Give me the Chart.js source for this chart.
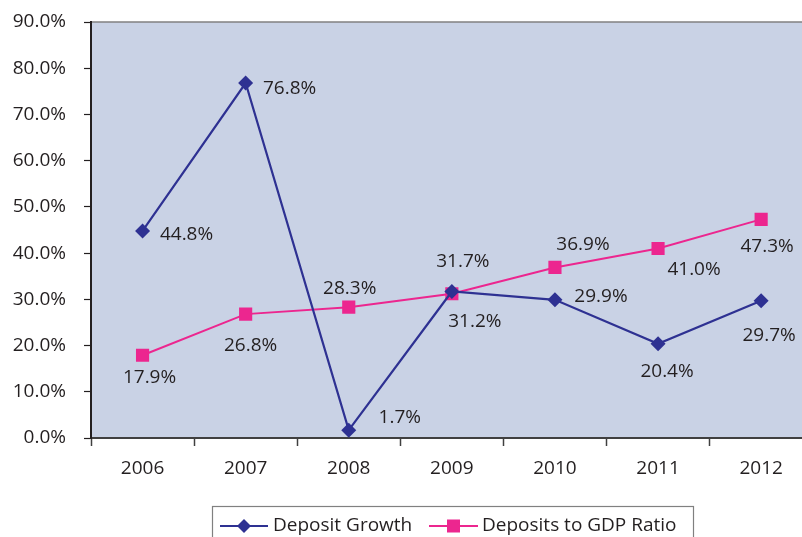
<!DOCTYPE html>
<html>
<head>
<meta charset="utf-8">
<script src="https://cdn.jsdelivr.net/npm/chart.js@4/dist/chart.umd.min.js"></script>
<style>
  html, body { margin: 0; padding: 0; background: #fff; overflow: hidden; }
  #chart { display: block; }
</style>
</head>
<body>
<canvas id="chart" width="822" height="560"></canvas>
<script>
// Series values (percent)
const years = ['2006', '2007', '2008', '2009', '2010', '2011', '2012']
const depositGrowth = [44.8, 76.8, 1.7, 31.7, 29.9, 20.4, 29.7]
const depositsToGdp = [17.9, 26.8, 28.3, 31.2, 36.9, 41.0, 47.3]

const BLUE = '#2e3192'
const PINK = '#ec268f'
const INK = '#231f20'
const FONT = "'Open Sans', sans-serif"
const FONT_SIZE = 19

// where each value label sits relative to its point, [dx, dy]
const growthLabelShift = [[44, 4], [44, 6], [51, -13], [11, -30], [46, -3], [9, 28], [8, 35]]
const gdpLabelShift = [[7, 22], [5, 31], [1, -19], [23, 28], [28, -23], [36, 21], [6, 27]]

const plotBackground = {
  id: 'plotBackground',
  beforeDraw(chart) {
    const { ctx, chartArea: a } = chart
    ctx.save()
    ctx.fillStyle = '#c9d2e5'
    ctx.fillRect(a.left, a.top, a.right - a.left, a.bottom - a.top)
    ctx.strokeStyle = '#808080'
    ctx.lineWidth = 1.5
    ctx.beginPath()
    ctx.moveTo(a.left, a.top)
    ctx.lineTo(chart.width, a.top)
    ctx.stroke()
    ctx.restore()
  }
}

const valueLabels = {
  id: 'valueLabels',
  afterDatasetsDraw(chart) {
    const { ctx } = chart
    const shifts = [growthLabelShift, gdpLabelShift]
    ctx.save()
    ctx.font = `${FONT_SIZE}px ${FONT}`
    ctx.fillStyle = INK
    ctx.textAlign = 'center'
    ctx.textBaseline = 'middle'
    chart.data.datasets.forEach((ds, i) => {
      chart.getDatasetMeta(i).data.forEach((pt, j) => {
        const [dx, dy] = shifts[i][j]
        ctx.fillText(ds.data[j].toFixed(1) + '%', pt.x + dx, pt.y + dy)
      })
    })
    ctx.restore()
  }
}

// boxed legend below the axis
const boxLegend = {
  id: 'boxLegend',
  afterDraw(chart) {
    const { ctx } = chart
    const top = 506, left = 212, right = 693
    ctx.save()
    ctx.strokeStyle = '#808080'
    ctx.lineWidth = 1.2
    ctx.strokeRect(left + 0.5, top + 0.5, right - left, 60)
    const y = 526
    const items = [
      { x1: 220, x2: 268, tx: 273 },
      { x1: 429, x2: 478, tx: 482 },
    ]
    ctx.font = `${FONT_SIZE}px ${FONT}`
    ctx.textBaseline = 'middle'
    chart.data.datasets.forEach((ds, i) => {
      const it = items[i]
      ctx.strokeStyle = ds.borderColor
      ctx.lineWidth = 2
      ctx.beginPath()
      ctx.moveTo(it.x1, y)
      ctx.lineTo(it.x2, y)
      ctx.stroke()
      ctx.fillStyle = ds.pointBackgroundColor
      const cx = (it.x1 + it.x2) / 2
      ctx.beginPath()
      if (ds.pointStyle === 'rectRot') {
        ctx.moveTo(cx, y - 7); ctx.lineTo(cx + 7, y); ctx.lineTo(cx, y + 7); ctx.lineTo(cx - 7, y)
        ctx.closePath()
        ctx.fill()
      } else {
        ctx.fillRect(cx - 6.5, y - 6.5, 13, 13)
      }
      ctx.fillStyle = INK
      ctx.fillText(ds.label, it.tx, y)
    })
    ctx.restore()
  }
}

new Chart(document.getElementById('chart'), {
  type: 'line',
  data: {
    labels: years,
    datasets: [
      {
        label: 'Deposit Growth', data: depositGrowth,
        borderColor: BLUE, borderWidth: 2.2,
        pointStyle: 'rectRot', pointRadius: 7.5, pointBackgroundColor: BLUE, pointBorderColor: BLUE, pointBorderWidth: 0,
      },
      {
        label: 'Deposits to GDP Ratio', data: depositsToGdp,
        borderColor: PINK, borderWidth: 2,
        pointStyle: 'rect', pointRadius: 9.3, pointBackgroundColor: PINK, pointBorderColor: PINK, pointBorderWidth: 0,
      },
    ],
  },
  options: {
    responsive: false,
    animation: false,
    layout: { padding: { top: 22, right: 1, left: 0, bottom: 0 } },
    plugins: { legend: { display: false }, tooltip: { enabled: false } },
    scales: {
      x: {
        offset: true,
        grid: { offset: true, drawOnChartArea: false, tickLength: 8, color: '#404040', tickWidth: 1.5 },
        border: { color: '#404040', width: 2 },
        ticks: { color: INK, font: { size: FONT_SIZE, family: FONT }, padding: 11, maxRotation: 0 },
        afterFit: s => { s.height = 122 },
      },
      y: {
        min: 0, max: 90,
        grid: { drawOnChartArea: false, tickLength: 7, color: INK, tickWidth: 1.2 },
        border: { color: INK, width: 2 },
        ticks: { stepSize: 10, color: INK, font: { size: FONT_SIZE, family: FONT }, padding: 18, callback: v => v.toFixed(1) + '%' },
        afterFit: s => { s.width = 91; s.paddingTop = 0; s.paddingBottom = 0 },
      },
    },
  },
  plugins: [plotBackground, valueLabels, boxLegend],
})
</script>
</body>
</html>
